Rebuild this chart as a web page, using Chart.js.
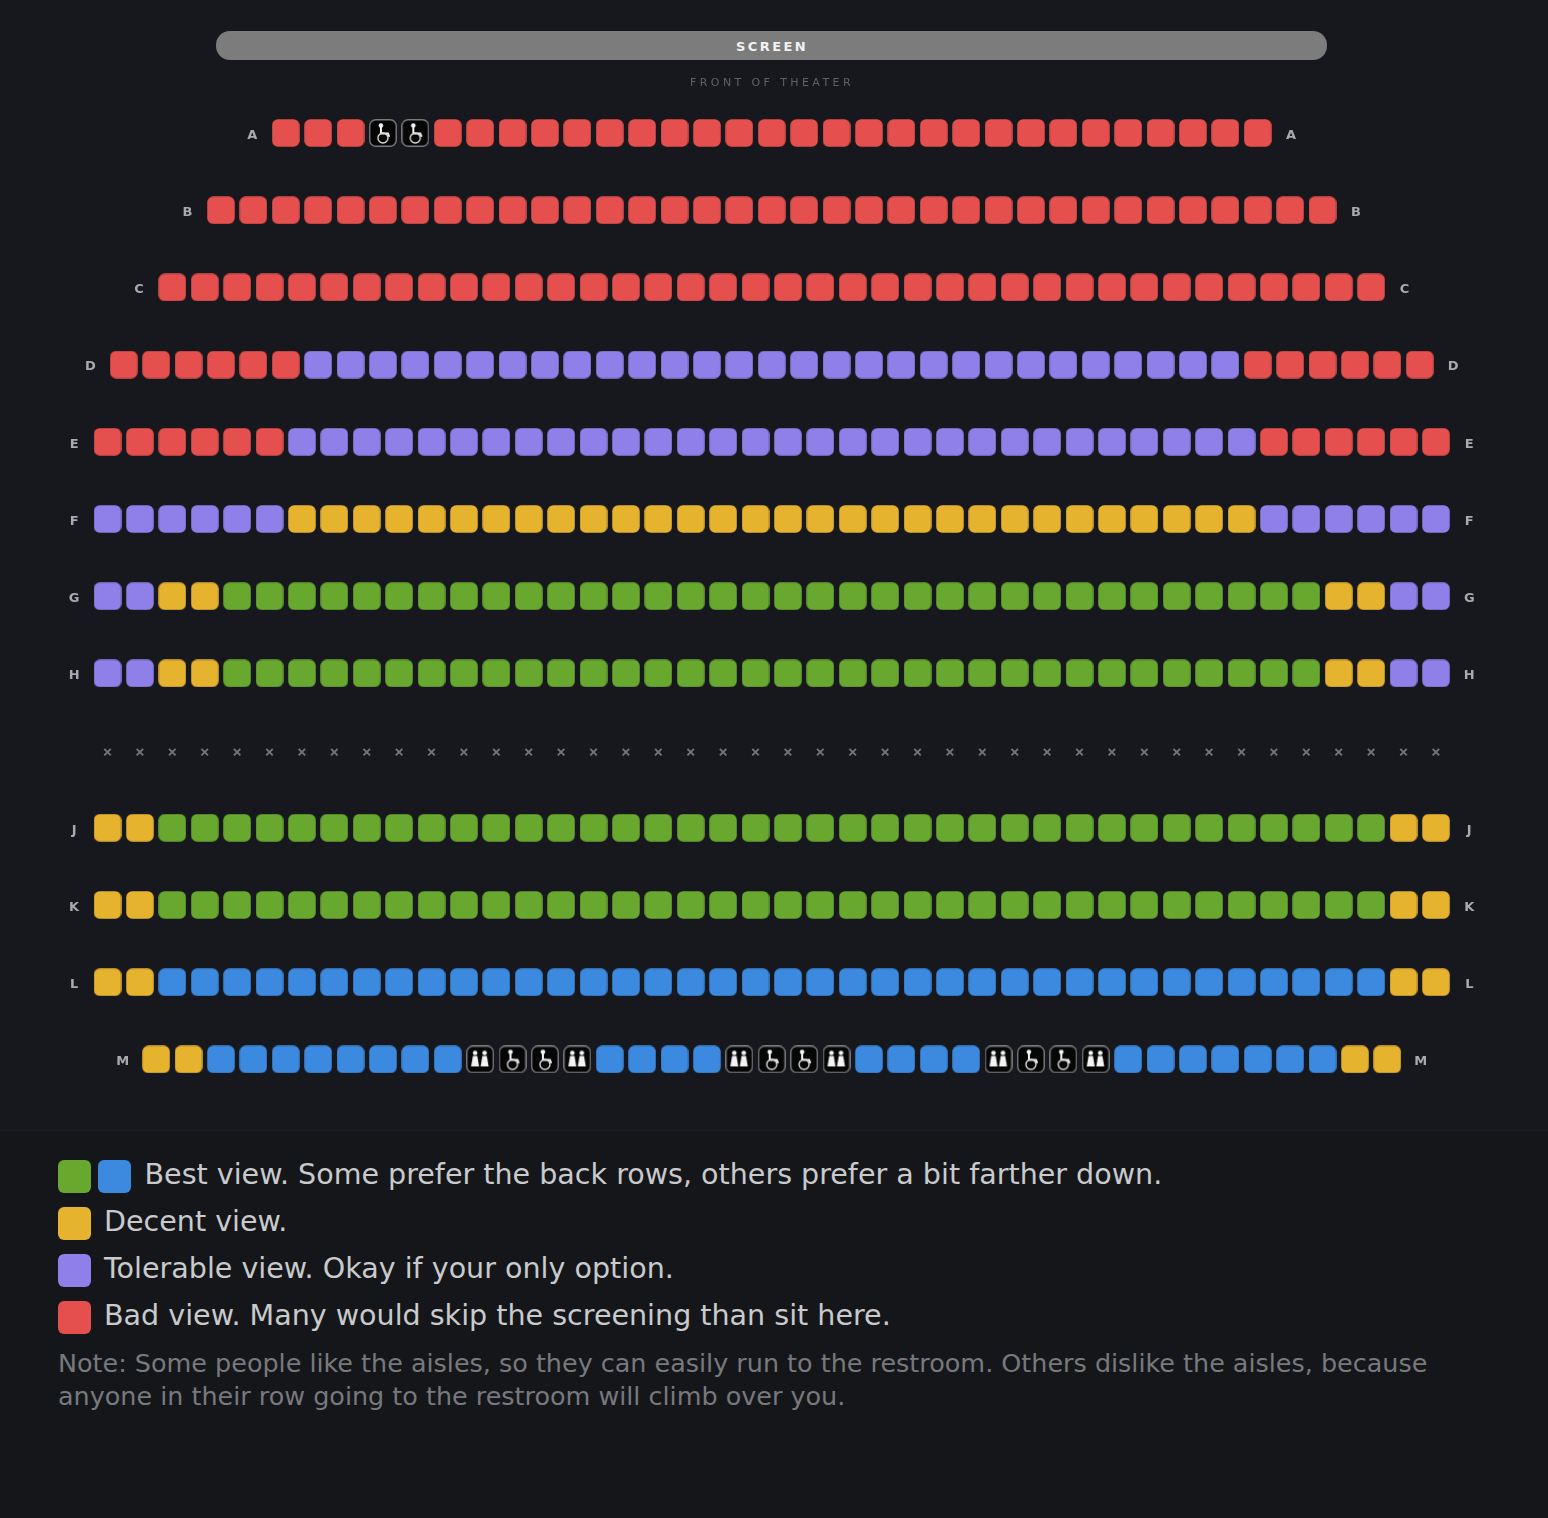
<!DOCTYPE html>
<html><head><meta charset="utf-8">
<script src="https://cdn.jsdelivr.net/npm/chart.js@4"></script>
<style>
html,body{margin:0;padding:0;background:#16181d;width:1548px;height:1518px;overflow:hidden;font-family:"DejaVu Sans",sans-serif}
#wrap{position:relative;width:1548px;height:1518px}
canvas{position:absolute;left:0;top:0}
#screen{position:absolute;left:216px;top:31px;width:1111px;height:29px;border-radius:14px;background:#7b7c7b;color:#f2f2f2;font-weight:700;font-size:13px;letter-spacing:2.4px;line-height:32px;text-align:center;text-indent:1px}
#front{position:absolute;left:0;width:1544px;top:76px;text-align:center;font-size:11px;letter-spacing:3.4px;color:#5f6165;line-height:14px}
#legend{position:absolute;left:0;top:1130px;width:1548px;height:388px;background:#15161a;border-top:1px solid #1d1f24;box-sizing:border-box}
.sw{position:absolute;width:33px;height:33px;border-radius:6px}
.lt{position:absolute;white-space:nowrap;font-size:28.55px;line-height:34px;color:#c9cacc}
.nt{position:absolute;left:58px;white-space:nowrap;font-size:25.45px;line-height:33px;color:#77797d}
</style></head><body>
<div id="wrap">
<canvas id="c" width="1548" height="1130"></canvas>
<div id="screen">SCREEN</div>
<div id="front">FRONT OF THEATER</div>
<div id="legend"></div>
</div>
<script>
// Seat kinds: R bad, P tolerable, Y decent, G best (green), B best (blue), W wheelchair, T restroom
const rowNames = ['A','B','C','D','E','F','G','H','J','K','L','M'];
const rowLevels = [0,1,2,3,4,5,6,7,9,10,11,12];
const rowStarts = [5.5,3.5,2,0.5,0,0,0,0,0,0,0,1.5];
const rowA = [['R',3],['W',2],['R',26]];
const rowB = [['R',35]];
const rowC = [['R',38]];
const rowD = [['R',6],['P',29],['R',6]];
const rowE = [['R',6],['P',30],['R',6]];
const rowF = [['P',6],['Y',30],['P',6]];
const rowG = [['P',2],['Y',2],['G',34],['Y',2],['P',2]];
const rowH = [['P',2],['Y',2],['G',34],['Y',2],['P',2]];
const rowJ = [['Y',2],['G',38],['Y',2]];
const rowK = [['Y',2],['G',38],['Y',2]];
const rowL = [['Y',2],['B',38],['Y',2]];
const rowM = [['Y',2],['B',8],['T',1],['W',2],['T',1],['B',4],['T',1],['W',2],['T',1],['B',4],['T',1],['W',2],['T',1],['B',7],['Y',2]];
const blockedLevel = 8.02;
const blockedCount = 42;
const legendLines = [
  {swatches:['G','B'],text:'Best view. Some prefer the back rows, others prefer a bit farther down.'},
  {swatches:['Y'],text:'Decent view.'},
  {swatches:['P'],text:'Tolerable view. Okay if your only option.'},
  {swatches:['R'],text:'Bad view. Many would skip the screening than sit here.'}
];
const noteLines = ['Note: Some people like the aisles, so they can easily run to the restroom. Others dislike the aisles, because','anyone in their row going to the restroom will climb over you.'];

const colors = {R:'#e5504f',P:'#8e80e8',Y:'#e6b32e',G:'#69a82f',B:'#3c8ae0'};
const rows = [rowA,rowB,rowC,rowD,rowE,rowF,rowG,rowH,rowJ,rowK,rowL,rowM];

function rr(g,x,y,w,h,r){g.beginPath();g.roundRect(x,y,w,h,r);}
function sprite(draw){
  const c=document.createElement('canvas');c.width=28;c.height=28;
  draw(c.getContext('2d'));return c;
}
function solid(col){return sprite(g=>{g.fillStyle=col;rr(g,0.25,0.25,27.5,27.5,6);g.fill();});}
function frame(g){
  g.fillStyle='#060607';rr(g,0.75,0.75,26.5,26.5,6);g.fill();
  g.strokeStyle='#77797c';g.lineWidth=1.4;g.stroke();
}
const wheelchair=sprite(g=>{
  frame(g);
  g.fillStyle='#f4f4f4';g.beginPath();g.arc(12,6.5,2.3,0,7);g.fill();
  g.strokeStyle='#f4f4f4';g.lineWidth=2;g.lineCap='round';
  g.beginPath();g.moveTo(12,8);g.lineTo(12,14.5);g.lineTo(19,14.5);g.lineTo(20,17);g.stroke();
  g.lineWidth=1.4;g.strokeStyle='#dcdcdc';g.beginPath();g.arc(14,19,5,0,7);g.stroke();
});
const restroom=sprite(g=>{
  frame(g);
  g.fillStyle='#f4f4f4';
  [9,18.5].forEach(x=>{
    g.beginPath();g.arc(x,7.5,2.3,0,7);g.fill();
    g.beginPath();g.moveTo(x-2.2,10.5);g.lineTo(x+2.2,10.5);g.lineTo(x+4,21);g.lineTo(x-4,21);g.closePath();g.fill();
  });
});

const sprites={R:solid(colors.R),P:solid(colors.P),Y:solid(colors.Y),G:solid(colors.G),B:solid(colors.B),W:wheelchair,T:restroom};
const points={R:[],P:[],Y:[],G:[],B:[],W:[],T:[]};
const rowEnds=[];
rows.forEach((row,i)=>{
  let c=rowStarts[i];
  row.forEach(([k,n])=>{for(let j=0;j<n;j++){points[k].push({x:c,y:rowLevels[i]});c++;}});
  rowEnds.push(c-1);
});
const blocked=[];for(let j=0;j<blockedCount;j++)blocked.push({x:j,y:blockedLevel});

const datasets=Object.keys(points).map(k=>({label:k,data:points[k],pointStyle:sprites[k],pointRadius:14,showLine:false,clip:false}));
datasets.push({label:'blocked',data:blocked,pointStyle:'crossRot',pointRadius:4.6,borderColor:'#737578',borderWidth:1.9,showLine:false});

const rowLabels={id:'rowLabels',afterDatasetsDraw(ch){
  const g=ch.ctx,xs=ch.scales.x,ys=ch.scales.y;
  g.save();g.font='bold 13px "DejaVu Sans"';g.fillStyle='#a8aaad';g.textAlign='center';g.textBaseline='middle';
  rowNames.forEach((n,i)=>{
    const y=ys.getPixelForValue(rowLevels[i])+2.5;
    g.fillText(n,xs.getPixelForValue(rowStarts[i]-1.03),y);
    g.fillText(n,xs.getPixelForValue(rowEnds[i]+1.03),y);
  });
  g.restore();
}};

new Chart(document.getElementById('c'),{
  type:'scatter',
  data:{datasets},
  options:{
    responsive:false,animation:false,devicePixelRatio:1,
    layout:{padding:0,autoPadding:false},
    plugins:{legend:{display:false},tooltip:{enabled:false}},
    events:[],
    scales:{
      x:{type:'linear',display:false,min:-107.5/32.4,max:(1548-107.5)/32.4},
      y:{type:'linear',display:false,reverse:true,min:-133/77.2,max:(1130-133)/77.2}
    }
  },
  plugins:[rowLabels]
});

const lg=document.getElementById('legend');
legendLines.forEach((l,i)=>{
  const top=29+47*i;
  l.swatches.forEach((s,j)=>{
    const d=document.createElement('div');d.className='sw';d.style.background=colors[s];
    d.style.left=(58+40*j)+'px';d.style.top=top+'px';lg.appendChild(d);
  });
  const t=document.createElement('div');t.className='lt';t.textContent=l.text;
  t.style.left=(l.swatches.length>1?144.5:104)+'px';t.style.top=(top-3)+'px';lg.appendChild(t);
});
noteLines.forEach((n,i)=>{
  const t=document.createElement('div');t.className='nt';t.textContent=n;
  t.style.top=(216+33*i)+'px';lg.appendChild(t);
});
</script>
</body></html>
